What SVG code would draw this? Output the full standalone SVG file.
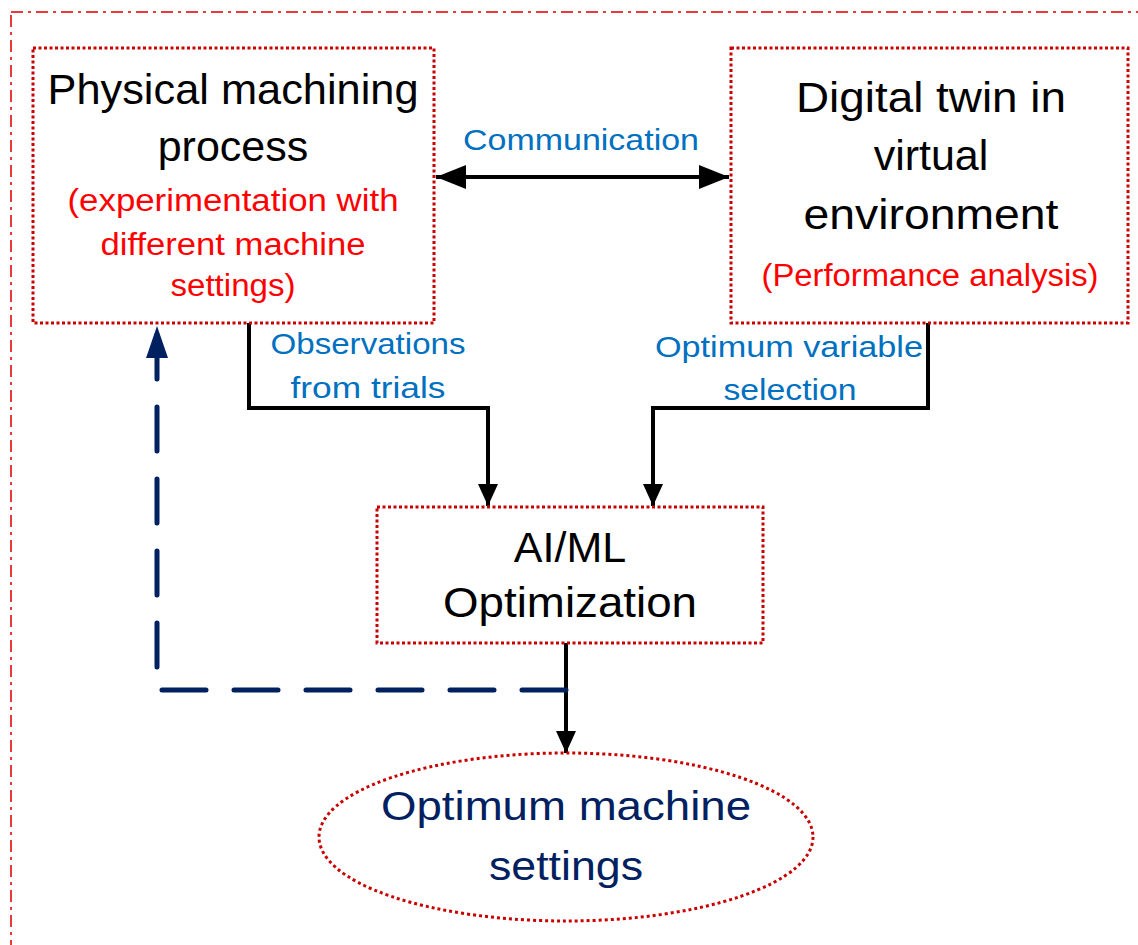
<svg xmlns="http://www.w3.org/2000/svg" width="1138" height="945" viewBox="0 0 1138 945">
<style>
.big{font-family:"Liberation Sans",Arial,sans-serif;font-size:43px;fill:#000;text-anchor:middle}
.red{font-family:"Liberation Sans",Arial,sans-serif;font-size:31px;fill:#FF0000;text-anchor:middle}
.blue{font-family:"Liberation Sans",Arial,sans-serif;font-size:29px;fill:#0070C0;text-anchor:middle}
.navy{font-family:"Liberation Sans",Arial,sans-serif;font-size:41px;fill:#002060;text-anchor:middle}
.box{fill:none;stroke:#C80000;stroke-width:3;stroke-dasharray:3 2.5}
.conn{fill:none;stroke:#000;stroke-width:4}
</style>
<defs>
<marker id="ah" markerUnits="userSpaceOnUse" markerWidth="24" markerHeight="20" refX="22" refY="10" orient="auto"><path d="M0,0 L22,10 L0,20 Z" fill="#000"/></marker>
<marker id="ahc" markerUnits="userSpaceOnUse" markerWidth="32" markerHeight="24" refX="30" refY="12" orient="auto-start-reverse"><path d="M0,0 L30,12 L0,24 Z" fill="#000"/></marker>
<marker id="ahb" markerUnits="userSpaceOnUse" markerWidth="34" markerHeight="24" refX="32" refY="12" orient="auto"><path d="M0,1 L32,12 L0,23 Z" fill="#002060"/></marker>
</defs>
<rect width="1138" height="945" fill="#fff"/>
<rect x="11" y="12" width="1160" height="960" fill="none" stroke="#E83A3A" stroke-width="2" stroke-dasharray="12 5 3 5"/>

<g id="connectors">
<line x1="436" y1="177" x2="729" y2="177" class="conn" marker-start="url(#ahc)" marker-end="url(#ahc)"/>
<path d="M249 323 V408 H488 V506" class="conn" marker-end="url(#ah)"/>
<path d="M928 323 V408 H653 V506" class="conn" marker-end="url(#ah)"/>
<path d="M566 643 V753" class="conn" stroke-width="3.5" marker-end="url(#ah)"/>
<path d="M566 690 H157 V326" fill="none" stroke="#002060" stroke-width="5" stroke-linecap="round" stroke-dasharray="44 28" marker-end="url(#ahb)"/>
<text x="581" y="150" class="blue" textLength="236" lengthAdjust="spacingAndGlyphs">Communication</text>
<text x="368" y="354" class="blue" textLength="195" lengthAdjust="spacingAndGlyphs">Observations</text>
<text x="368" y="398" class="blue" textLength="155" lengthAdjust="spacingAndGlyphs">from trials</text>
<text x="789" y="357" class="blue" textLength="268" lengthAdjust="spacingAndGlyphs">Optimum variable</text>
<text x="790" y="400" class="blue" textLength="133" lengthAdjust="spacingAndGlyphs">selection</text>
</g>

<g id="physical">
<rect x="33" y="48" width="401" height="275" class="box"/>
<text x="233" y="104" class="big" textLength="371" lengthAdjust="spacingAndGlyphs">Physical machining</text>
<text x="233" y="161" class="big">process</text>
<text x="233" y="211" class="red" textLength="331" lengthAdjust="spacingAndGlyphs">(experimentation with</text>
<text x="233" y="255" class="red" textLength="265" lengthAdjust="spacingAndGlyphs">different machine</text>
<text x="233" y="296" class="red" textLength="125" lengthAdjust="spacingAndGlyphs">settings)</text>
</g>

<g id="digital">
<rect x="731" y="48" width="397" height="275" class="box"/>
<text x="931" y="112" class="big" textLength="270" lengthAdjust="spacingAndGlyphs">Digital twin in</text>
<text x="931" y="170" class="big">virtual</text>
<text x="931" y="229" class="big" textLength="255" lengthAdjust="spacingAndGlyphs">environment</text>
<text x="930" y="286" class="red" textLength="337" lengthAdjust="spacingAndGlyphs">(Performance analysis)</text>
</g>

<g id="aiml">
<rect x="377" y="507" width="386" height="136" class="box" stroke-width="4" stroke-dasharray="7 5"/>
<text x="570" y="562" class="big">AI/ML</text>
<text x="570" y="617" class="big" textLength="254" lengthAdjust="spacingAndGlyphs">Optimization</text>
</g>

<g id="optimum">
<ellipse cx="566" cy="837" rx="247" ry="84" fill="none" stroke="#C80000" stroke-width="3" stroke-dasharray="3 3"/>
<text x="566" y="820" class="navy" textLength="370" lengthAdjust="spacingAndGlyphs">Optimum machine</text>
<text x="566" y="880" class="navy" textLength="154" lengthAdjust="spacingAndGlyphs">settings</text>
</g>
</svg>
